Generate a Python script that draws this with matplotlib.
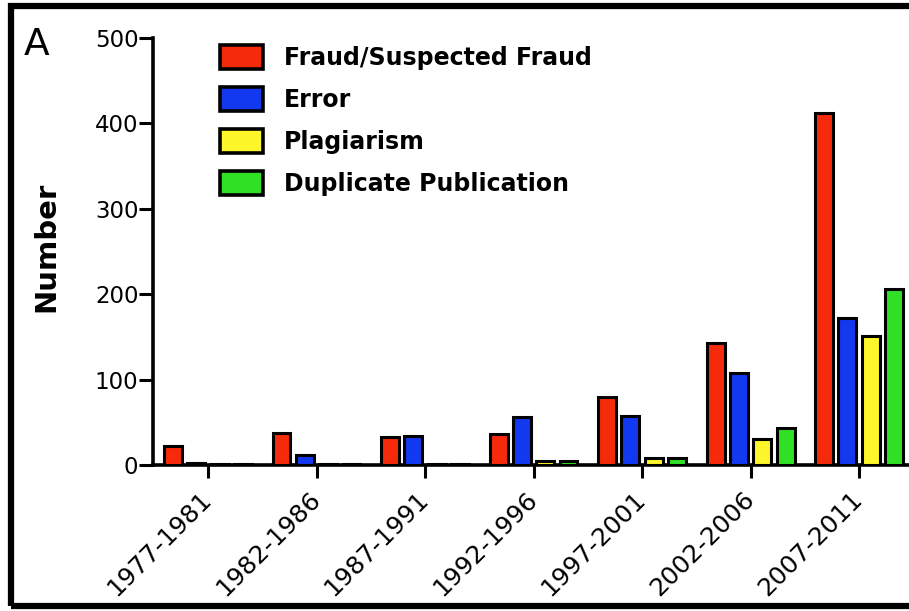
import numpy as np
import matplotlib.pyplot as plt
import matplotlib.patches as mpatch

plt.rcParams['font.family'] = ['DejaVu Sans']

## data
periods = ['1977-1981', '1982-1986', '1987-1991', '1992-1996',
           '1997-2001', '2002-2006', '2007-2011']
fraud = [22, 37, 33, 36, 80, 143, 412]
error = [2, 12, 34, 56, 57, 108, 172]
plagiarism = [1, 1, 1, 5, 8, 30, 151]
duplicate = [1, 1, 1, 5, 8, 43, 206]

series = [('Fraud/Suspected Fraud', fraud, '#f52a0a'),
          ('Error', error, '#1238f0'),
          ('Plagiarism', plagiarism, '#fcf62a'),
          ('Duplicate Publication', duplicate, '#30e025')]

fig = plt.figure(figsize=(9.09, 6.11), dpi=100)
ax = fig.add_axes([153 / 909, 146 / 611, 1 - 153 / 909, (465 - 38) / 611])

x = np.arange(len(periods))
pitch = 0.215
width = 0.165
handles = []
for k, (name, vals, col) in enumerate(series):
    ax.bar(x + (k - 1.5) * pitch, vals, width, color=col,
           edgecolor='black', linewidth=2.2, zorder=3)
    handles.append(mpatch.Patch(facecolor=col, edgecolor='black',
                                linewidth=2.6, label=name))

ax.set_xlim(-0.507, 6.46)
ax.set_ylim(0, 500)
ax.set_yticks([0, 100, 200, 300, 400, 500])
ax.set_xticks(x)
ax.set_xticklabels(periods, rotation=45, ha='right', va='center',
                   rotation_mode='anchor', fontsize=18)
ax.tick_params(axis='y', labelsize=16.5, length=10, width=2.2, pad=0.5)
ax.tick_params(axis='x', length=9, width=2.2, pad=13)

for side in ['top', 'right']:
    ax.spines[side].set_visible(False)
for side in ['left', 'bottom']:
    ax.spines[side].set_linewidth(2.6)

ax.set_ylabel('Number', fontsize=21, fontweight='bold')
ax.yaxis.set_label_coords(-0.123, 0.51)

leg = ax.legend(handles=handles, loc='upper left',
                bbox_to_anchor=(220 / 909, 1 - 45 / 611),
                bbox_transform=fig.transFigure, frameon=False,
                prop={'size': 17, 'weight': 'bold'}, borderpad=0,
                borderaxespad=0, handlelength=1.8, handleheight=1.2,
                labelspacing=0.71, handletextpad=0.9)

fig.text(24 / 909, 1 - 55 / 611, 'A', fontsize=27)

## outer frame around the panel
frame = mpatch.Rectangle((11 / 909, 5 / 611), 1.0, 1 - 11 / 611,
                         transform=fig.transFigure, fill=False,
                         edgecolor='black', linewidth=4.5, clip_on=False)
fig.add_artist(frame)

plt.savefig('out.png', dpi=100)
